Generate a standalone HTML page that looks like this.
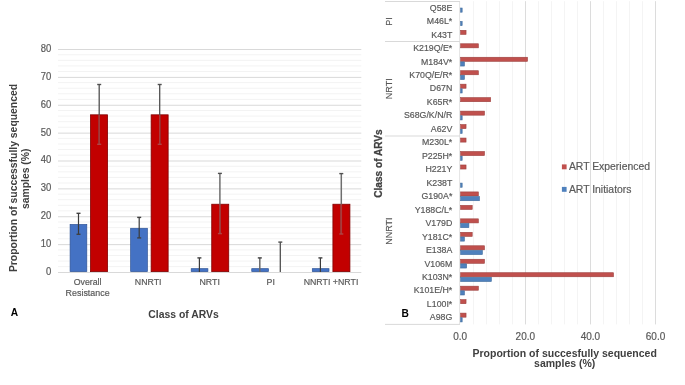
<!DOCTYPE html>
<html><head><meta charset="utf-8"><style>
html,body{margin:0;padding:0;background:#fff;width:685px;height:385px;overflow:hidden}
svg{display:block;will-change:transform}
text{font-family:"Liberation Sans", sans-serif}
text[fill="#595959"]{stroke:#595959;stroke-width:0.18px}
</style></head><body>
<svg width="685" height="385" viewBox="0 0 685 385">
<rect width="685" height="385" fill="#fff"/>
<line x1="58.0" y1="272.5" x2="361.3" y2="272.5" stroke="#d9d9d9" stroke-width="1"/>
<line x1="58.0" y1="266.625" x2="361.3" y2="266.625" stroke="#f3f3f3" stroke-width="1"/>
<line x1="58.0" y1="261.05" x2="361.3" y2="261.05" stroke="#f3f3f3" stroke-width="1"/>
<line x1="58.0" y1="255.475" x2="361.3" y2="255.475" stroke="#f3f3f3" stroke-width="1"/>
<line x1="58.0" y1="249.89999999999998" x2="361.3" y2="249.89999999999998" stroke="#f3f3f3" stroke-width="1"/>
<line x1="58.0" y1="244.625" x2="361.3" y2="244.625" stroke="#d9d9d9" stroke-width="1"/>
<line x1="58.0" y1="238.75" x2="361.3" y2="238.75" stroke="#f3f3f3" stroke-width="1"/>
<line x1="58.0" y1="233.17499999999998" x2="361.3" y2="233.17499999999998" stroke="#f3f3f3" stroke-width="1"/>
<line x1="58.0" y1="227.6" x2="361.3" y2="227.6" stroke="#f3f3f3" stroke-width="1"/>
<line x1="58.0" y1="222.02499999999998" x2="361.3" y2="222.02499999999998" stroke="#f3f3f3" stroke-width="1"/>
<line x1="58.0" y1="216.75" x2="361.3" y2="216.75" stroke="#d9d9d9" stroke-width="1"/>
<line x1="58.0" y1="210.875" x2="361.3" y2="210.875" stroke="#f3f3f3" stroke-width="1"/>
<line x1="58.0" y1="205.29999999999998" x2="361.3" y2="205.29999999999998" stroke="#f3f3f3" stroke-width="1"/>
<line x1="58.0" y1="199.72499999999997" x2="361.3" y2="199.72499999999997" stroke="#f3f3f3" stroke-width="1"/>
<line x1="58.0" y1="194.14999999999998" x2="361.3" y2="194.14999999999998" stroke="#f3f3f3" stroke-width="1"/>
<line x1="58.0" y1="188.875" x2="361.3" y2="188.875" stroke="#d9d9d9" stroke-width="1"/>
<line x1="58.0" y1="183.0" x2="361.3" y2="183.0" stroke="#f3f3f3" stroke-width="1"/>
<line x1="58.0" y1="177.42499999999998" x2="361.3" y2="177.42499999999998" stroke="#f3f3f3" stroke-width="1"/>
<line x1="58.0" y1="171.84999999999997" x2="361.3" y2="171.84999999999997" stroke="#f3f3f3" stroke-width="1"/>
<line x1="58.0" y1="166.27499999999998" x2="361.3" y2="166.27499999999998" stroke="#f3f3f3" stroke-width="1"/>
<line x1="58.0" y1="161.0" x2="361.3" y2="161.0" stroke="#d9d9d9" stroke-width="1"/>
<line x1="58.0" y1="155.125" x2="361.3" y2="155.125" stroke="#f3f3f3" stroke-width="1"/>
<line x1="58.0" y1="149.54999999999998" x2="361.3" y2="149.54999999999998" stroke="#f3f3f3" stroke-width="1"/>
<line x1="58.0" y1="143.975" x2="361.3" y2="143.975" stroke="#f3f3f3" stroke-width="1"/>
<line x1="58.0" y1="138.39999999999998" x2="361.3" y2="138.39999999999998" stroke="#f3f3f3" stroke-width="1"/>
<line x1="58.0" y1="133.125" x2="361.3" y2="133.125" stroke="#d9d9d9" stroke-width="1"/>
<line x1="58.0" y1="127.24999999999999" x2="361.3" y2="127.24999999999999" stroke="#f3f3f3" stroke-width="1"/>
<line x1="58.0" y1="121.675" x2="361.3" y2="121.675" stroke="#f3f3f3" stroke-width="1"/>
<line x1="58.0" y1="116.10000000000001" x2="361.3" y2="116.10000000000001" stroke="#f3f3f3" stroke-width="1"/>
<line x1="58.0" y1="110.52499999999999" x2="361.3" y2="110.52499999999999" stroke="#f3f3f3" stroke-width="1"/>
<line x1="58.0" y1="105.25" x2="361.3" y2="105.25" stroke="#d9d9d9" stroke-width="1"/>
<line x1="58.0" y1="99.37499999999999" x2="361.3" y2="99.37499999999999" stroke="#f3f3f3" stroke-width="1"/>
<line x1="58.0" y1="93.8" x2="361.3" y2="93.8" stroke="#f3f3f3" stroke-width="1"/>
<line x1="58.0" y1="88.22500000000001" x2="361.3" y2="88.22500000000001" stroke="#f3f3f3" stroke-width="1"/>
<line x1="58.0" y1="82.64999999999999" x2="361.3" y2="82.64999999999999" stroke="#f3f3f3" stroke-width="1"/>
<line x1="58.0" y1="77.375" x2="361.3" y2="77.375" stroke="#d9d9d9" stroke-width="1"/>
<line x1="58.0" y1="71.49999999999999" x2="361.3" y2="71.49999999999999" stroke="#f3f3f3" stroke-width="1"/>
<line x1="58.0" y1="65.925" x2="361.3" y2="65.925" stroke="#f3f3f3" stroke-width="1"/>
<line x1="58.0" y1="60.35000000000001" x2="361.3" y2="60.35000000000001" stroke="#f3f3f3" stroke-width="1"/>
<line x1="58.0" y1="54.77499999999999" x2="361.3" y2="54.77499999999999" stroke="#f3f3f3" stroke-width="1"/>
<line x1="58.0" y1="49.5" x2="361.3" y2="49.5" stroke="#d9d9d9" stroke-width="1"/>
<text transform="translate(51.3,274.90) scale(1,1.15)" text-anchor="end" font-size="9.5" fill="#595959">0</text>
<text transform="translate(51.3,247.03) scale(1,1.15)" text-anchor="end" font-size="9.5" fill="#595959">10</text>
<text transform="translate(51.3,219.15) scale(1,1.15)" text-anchor="end" font-size="9.5" fill="#595959">20</text>
<text transform="translate(51.3,191.28) scale(1,1.15)" text-anchor="end" font-size="9.5" fill="#595959">30</text>
<text transform="translate(51.3,163.40) scale(1,1.15)" text-anchor="end" font-size="9.5" fill="#595959">40</text>
<text transform="translate(51.3,135.53) scale(1,1.15)" text-anchor="end" font-size="9.5" fill="#595959">50</text>
<text transform="translate(51.3,107.65) scale(1,1.15)" text-anchor="end" font-size="9.5" fill="#595959">60</text>
<text transform="translate(51.3,79.78) scale(1,1.15)" text-anchor="end" font-size="9.5" fill="#595959">70</text>
<text transform="translate(51.3,51.90) scale(1,1.15)" text-anchor="end" font-size="9.5" fill="#595959">80</text>
<rect x="70.10" y="224.44" width="16.70" height="47.21" fill="#4472c4" stroke="#2f5597" stroke-width="0.7"/>
<rect x="90.55" y="114.82" width="17.0" height="156.78" fill="#c20000" stroke="#800000" stroke-width="0.8"/>
<rect x="130.65" y="228.28" width="16.70" height="43.37" fill="#4472c4" stroke="#2f5597" stroke-width="0.7"/>
<rect x="151.14" y="114.82" width="17.0" height="156.78" fill="#c20000" stroke="#800000" stroke-width="0.8"/>
<rect x="191.20" y="268.66" width="16.70" height="2.99" fill="#4472c4" stroke="#2f5597" stroke-width="0.7"/>
<rect x="211.73" y="204.23" width="17.0" height="67.37" fill="#c20000" stroke="#800000" stroke-width="0.8"/>
<rect x="251.75" y="268.66" width="16.70" height="2.99" fill="#4472c4" stroke="#2f5597" stroke-width="0.7"/>
<rect x="312.30" y="268.66" width="16.70" height="2.99" fill="#4472c4" stroke="#2f5597" stroke-width="0.7"/>
<rect x="332.91" y="204.23" width="17.0" height="67.37" fill="#c20000" stroke="#800000" stroke-width="0.8"/>
<line x1="78.50" y1="213.30" x2="78.50" y2="234.30" stroke="#3a3a3a" stroke-width="1.2"/>
<line x1="76.50" y1="213.30" x2="80.50" y2="213.30" stroke="#404040" stroke-width="1.4"/>
<line x1="76.50" y1="234.30" x2="80.50" y2="234.30" stroke="#404040" stroke-width="1.4"/>
<line x1="99.20" y1="84.50" x2="99.20" y2="144.30" stroke="#505050" stroke-width="1.3"/>
<line x1="97.20" y1="84.50" x2="101.20" y2="84.50" stroke="#505050" stroke-width="1.4"/>
<line x1="99.20" y1="115.12" x2="99.20" y2="144.30" stroke="#a33232" stroke-width="1.4"/>
<line x1="99.20" y1="115.12" x2="99.20" y2="144.30" stroke="#b44a4a" stroke-width="0.5"/>
<line x1="97.20" y1="144.30" x2="101.20" y2="144.30" stroke="#b04545" stroke-width="1.4"/>
<line x1="139.20" y1="217.40" x2="139.20" y2="237.90" stroke="#3a3a3a" stroke-width="1.2"/>
<line x1="137.20" y1="217.40" x2="141.20" y2="217.40" stroke="#404040" stroke-width="1.4"/>
<line x1="137.20" y1="237.90" x2="141.20" y2="237.90" stroke="#404040" stroke-width="1.4"/>
<line x1="159.70" y1="84.50" x2="159.70" y2="144.30" stroke="#505050" stroke-width="1.3"/>
<line x1="157.70" y1="84.50" x2="161.70" y2="84.50" stroke="#505050" stroke-width="1.4"/>
<line x1="159.70" y1="115.12" x2="159.70" y2="144.30" stroke="#a33232" stroke-width="1.4"/>
<line x1="159.70" y1="115.12" x2="159.70" y2="144.30" stroke="#b44a4a" stroke-width="0.5"/>
<line x1="157.70" y1="144.30" x2="161.70" y2="144.30" stroke="#b04545" stroke-width="1.4"/>
<line x1="199.40" y1="257.90" x2="199.40" y2="272.00" stroke="#3a3a3a" stroke-width="1.2"/>
<line x1="197.40" y1="257.90" x2="201.40" y2="257.90" stroke="#404040" stroke-width="1.4"/>
<line x1="219.90" y1="173.40" x2="219.90" y2="233.60" stroke="#6e6e6e" stroke-width="1.5"/>
<line x1="217.90" y1="173.40" x2="221.90" y2="173.40" stroke="#505050" stroke-width="1.4"/>
<line x1="219.90" y1="204.53" x2="219.90" y2="233.60" stroke="#a33232" stroke-width="1.4"/>
<line x1="219.90" y1="204.53" x2="219.90" y2="233.60" stroke="#b44a4a" stroke-width="0.5"/>
<line x1="217.90" y1="233.60" x2="221.90" y2="233.60" stroke="#b04545" stroke-width="1.4"/>
<line x1="259.80" y1="257.90" x2="259.80" y2="272.00" stroke="#6a6a6a" stroke-width="1.5"/>
<line x1="257.80" y1="257.90" x2="261.80" y2="257.90" stroke="#404040" stroke-width="1.4"/>
<line x1="280.30" y1="242.10" x2="280.30" y2="272.00" stroke="#505050" stroke-width="1.3"/>
<line x1="278.30" y1="242.10" x2="282.30" y2="242.10" stroke="#505050" stroke-width="1.4"/>
<line x1="320.40" y1="257.90" x2="320.40" y2="272.00" stroke="#3a3a3a" stroke-width="1.2"/>
<line x1="318.40" y1="257.90" x2="322.40" y2="257.90" stroke="#404040" stroke-width="1.4"/>
<line x1="341.30" y1="173.60" x2="341.30" y2="234.00" stroke="#6e6e6e" stroke-width="1.5"/>
<line x1="339.30" y1="173.60" x2="343.30" y2="173.60" stroke="#505050" stroke-width="1.4"/>
<line x1="341.30" y1="204.53" x2="341.30" y2="234.00" stroke="#a33232" stroke-width="1.4"/>
<line x1="341.30" y1="204.53" x2="341.30" y2="234.00" stroke="#b44a4a" stroke-width="0.5"/>
<line x1="339.30" y1="234.00" x2="343.30" y2="234.00" stroke="#b04545" stroke-width="1.4"/>
<text transform="translate(87.60,285.4) scale(1,1.1)" text-anchor="middle" font-size="8.8" fill="#595959">Overall</text>
<text transform="translate(87.60,295.9) scale(1,1.1)" text-anchor="middle" font-size="8.9" fill="#595959">Resistance</text>
<text transform="translate(148.20,285.4) scale(1,1.1)" text-anchor="middle" font-size="8.8" fill="#595959">NNRTI</text>
<text transform="translate(209.70,285.4) scale(1,1.1)" text-anchor="middle" font-size="8.8" fill="#595959">NRTI</text>
<text transform="translate(270.70,285.4) scale(1,1.1)" text-anchor="middle" font-size="8.8" fill="#595959">PI</text>
<text transform="translate(331.00,285.4) scale(1,1.1)" text-anchor="middle" font-size="8.8" fill="#595959">NNRTI +NRTI</text>
<text x="183.5" y="317.7" text-anchor="middle" font-size="10.4" font-weight="bold" fill="#404040">Class of ARVs</text>
<text x="10.8" y="315.9" font-size="10.2" font-weight="bold" fill="#000">A</text>
<g transform="translate(17.1,178) rotate(-90)"><text x="0" y="0" text-anchor="middle" font-size="10.4" font-weight="bold" fill="#404040">Proportion of successfully sequenced</text><text x="-0.8" y="12" text-anchor="middle" font-size="10.4" font-weight="bold" fill="#404040">samples (%)</text></g>
<line x1="473.5" y1="1.2" x2="473.5" y2="324.4" stroke="#f4f4f4" stroke-width="1"/>
<line x1="486.5" y1="1.2" x2="486.5" y2="324.4" stroke="#f4f4f4" stroke-width="1"/>
<line x1="499.5" y1="1.2" x2="499.5" y2="324.4" stroke="#f4f4f4" stroke-width="1"/>
<line x1="512.5" y1="1.2" x2="512.5" y2="324.4" stroke="#f4f4f4" stroke-width="1"/>
<line x1="525.5" y1="1.2" x2="525.5" y2="324.4" stroke="#dcdcdc" stroke-width="1"/>
<line x1="538.5" y1="1.2" x2="538.5" y2="324.4" stroke="#f4f4f4" stroke-width="1"/>
<line x1="551.5" y1="1.2" x2="551.5" y2="324.4" stroke="#f4f4f4" stroke-width="1"/>
<line x1="564.5" y1="1.2" x2="564.5" y2="324.4" stroke="#f4f4f4" stroke-width="1"/>
<line x1="577.5" y1="1.2" x2="577.5" y2="324.4" stroke="#f4f4f4" stroke-width="1"/>
<line x1="590.5" y1="1.2" x2="590.5" y2="324.4" stroke="#dcdcdc" stroke-width="1"/>
<line x1="603.5" y1="1.2" x2="603.5" y2="324.4" stroke="#f4f4f4" stroke-width="1"/>
<line x1="616.5" y1="1.2" x2="616.5" y2="324.4" stroke="#f4f4f4" stroke-width="1"/>
<line x1="629.5" y1="1.2" x2="629.5" y2="324.4" stroke="#f4f4f4" stroke-width="1"/>
<line x1="642.5" y1="1.2" x2="642.5" y2="324.4" stroke="#f4f4f4" stroke-width="1"/>
<line x1="655.5" y1="1.2" x2="655.5" y2="324.4" stroke="#dcdcdc" stroke-width="1"/>
<rect x="460.50" y="8.03" width="1.65" height="4.15" fill="#4f81bd" stroke="#3d6a9c" stroke-width="0.6"/>
<text transform="translate(452.3,10.68) scale(1,1.07)" text-anchor="end" font-size="8.8" fill="#595959">Q58E</text>
<rect x="460.50" y="21.50" width="1.65" height="4.15" fill="#4f81bd" stroke="#3d6a9c" stroke-width="0.6"/>
<text transform="translate(452.3,24.15) scale(1,1.07)" text-anchor="end" font-size="8.8" fill="#595959">M46L*</text>
<rect x="460.50" y="30.32" width="5.54" height="4.05" fill="#c0504d" stroke="#9c3f3d" stroke-width="0.6"/>
<text transform="translate(452.3,37.62) scale(1,1.07)" text-anchor="end" font-size="8.8" fill="#595959">K43T</text>
<rect x="460.50" y="43.78" width="17.83" height="4.05" fill="#c0504d" stroke="#9c3f3d" stroke-width="0.6"/>
<text transform="translate(452.3,51.08) scale(1,1.07)" text-anchor="end" font-size="8.8" fill="#595959">K219Q/E*</text>
<rect x="460.50" y="57.25" width="66.98" height="4.05" fill="#c0504d" stroke="#9c3f3d" stroke-width="0.6"/>
<rect x="460.50" y="61.90" width="3.89" height="4.15" fill="#4f81bd" stroke="#3d6a9c" stroke-width="0.6"/>
<text transform="translate(452.3,64.55) scale(1,1.07)" text-anchor="end" font-size="8.8" fill="#595959">M184V*</text>
<rect x="460.50" y="70.72" width="17.83" height="4.05" fill="#c0504d" stroke="#9c3f3d" stroke-width="0.6"/>
<rect x="460.50" y="75.37" width="3.89" height="4.15" fill="#4f81bd" stroke="#3d6a9c" stroke-width="0.6"/>
<text transform="translate(452.3,78.02) scale(1,1.07)" text-anchor="end" font-size="8.8" fill="#595959">K70Q/E/R*</text>
<rect x="460.50" y="84.18" width="5.54" height="4.05" fill="#c0504d" stroke="#9c3f3d" stroke-width="0.6"/>
<rect x="460.50" y="88.83" width="1.65" height="4.15" fill="#4f81bd" stroke="#3d6a9c" stroke-width="0.6"/>
<text transform="translate(452.3,91.48) scale(1,1.07)" text-anchor="end" font-size="8.8" fill="#595959">D67N</text>
<rect x="460.50" y="97.65" width="30.12" height="4.05" fill="#c0504d" stroke="#9c3f3d" stroke-width="0.6"/>
<text transform="translate(452.3,104.95) scale(1,1.07)" text-anchor="end" font-size="8.8" fill="#595959">K65R*</text>
<rect x="460.50" y="111.12" width="23.97" height="4.05" fill="#c0504d" stroke="#9c3f3d" stroke-width="0.6"/>
<rect x="460.50" y="115.77" width="1.65" height="4.15" fill="#4f81bd" stroke="#3d6a9c" stroke-width="0.6"/>
<text transform="translate(452.3,118.42) scale(1,1.07)" text-anchor="end" font-size="8.8" fill="#595959">S68G/K/N/R</text>
<rect x="460.50" y="124.58" width="5.54" height="4.05" fill="#c0504d" stroke="#9c3f3d" stroke-width="0.6"/>
<rect x="460.50" y="129.23" width="1.65" height="4.15" fill="#4f81bd" stroke="#3d6a9c" stroke-width="0.6"/>
<text transform="translate(452.3,131.88) scale(1,1.07)" text-anchor="end" font-size="8.8" fill="#595959">A62V</text>
<rect x="460.50" y="138.05" width="5.54" height="4.05" fill="#c0504d" stroke="#9c3f3d" stroke-width="0.6"/>
<text transform="translate(452.3,145.35) scale(1,1.07)" text-anchor="end" font-size="8.8" fill="#595959">M230L*</text>
<rect x="460.50" y="151.52" width="23.97" height="4.05" fill="#c0504d" stroke="#9c3f3d" stroke-width="0.6"/>
<rect x="460.50" y="156.17" width="1.65" height="4.15" fill="#4f81bd" stroke="#3d6a9c" stroke-width="0.6"/>
<text transform="translate(452.3,158.82) scale(1,1.07)" text-anchor="end" font-size="8.8" fill="#595959">P225H*</text>
<rect x="460.50" y="164.98" width="5.54" height="4.05" fill="#c0504d" stroke="#9c3f3d" stroke-width="0.6"/>
<text transform="translate(452.3,172.28) scale(1,1.07)" text-anchor="end" font-size="8.8" fill="#595959">H221Y</text>
<rect x="460.50" y="183.10" width="1.65" height="4.15" fill="#4f81bd" stroke="#3d6a9c" stroke-width="0.6"/>
<text transform="translate(452.3,185.75) scale(1,1.07)" text-anchor="end" font-size="8.8" fill="#595959">K238T</text>
<rect x="460.50" y="191.92" width="17.83" height="4.05" fill="#c0504d" stroke="#9c3f3d" stroke-width="0.6"/>
<rect x="460.50" y="196.57" width="18.94" height="4.15" fill="#4f81bd" stroke="#3d6a9c" stroke-width="0.6"/>
<text transform="translate(452.3,199.22) scale(1,1.07)" text-anchor="end" font-size="8.8" fill="#595959">G190A*</text>
<rect x="460.50" y="205.38" width="11.69" height="4.05" fill="#c0504d" stroke="#9c3f3d" stroke-width="0.6"/>
<text transform="translate(452.3,212.68) scale(1,1.07)" text-anchor="end" font-size="8.8" fill="#595959">Y188C/L*</text>
<rect x="460.50" y="218.85" width="17.83" height="4.05" fill="#c0504d" stroke="#9c3f3d" stroke-width="0.6"/>
<rect x="460.50" y="223.50" width="8.38" height="4.15" fill="#4f81bd" stroke="#3d6a9c" stroke-width="0.6"/>
<text transform="translate(452.3,226.15) scale(1,1.07)" text-anchor="end" font-size="8.8" fill="#595959">V179D</text>
<rect x="460.50" y="232.32" width="11.69" height="4.05" fill="#c0504d" stroke="#9c3f3d" stroke-width="0.6"/>
<rect x="460.50" y="236.97" width="3.89" height="4.15" fill="#4f81bd" stroke="#3d6a9c" stroke-width="0.6"/>
<text transform="translate(452.3,239.62) scale(1,1.07)" text-anchor="end" font-size="8.8" fill="#595959">Y181C*</text>
<rect x="460.50" y="245.78" width="23.97" height="4.05" fill="#c0504d" stroke="#9c3f3d" stroke-width="0.6"/>
<rect x="460.50" y="250.43" width="21.86" height="4.15" fill="#4f81bd" stroke="#3d6a9c" stroke-width="0.6"/>
<text transform="translate(452.3,253.08) scale(1,1.07)" text-anchor="end" font-size="8.8" fill="#595959">E138A</text>
<rect x="460.50" y="259.25" width="23.97" height="4.05" fill="#c0504d" stroke="#9c3f3d" stroke-width="0.6"/>
<rect x="460.50" y="263.90" width="6.14" height="4.15" fill="#4f81bd" stroke="#3d6a9c" stroke-width="0.6"/>
<text transform="translate(452.3,266.55) scale(1,1.07)" text-anchor="end" font-size="8.8" fill="#595959">V106M</text>
<rect x="460.50" y="272.72" width="152.98" height="4.05" fill="#c0504d" stroke="#9c3f3d" stroke-width="0.6"/>
<rect x="460.50" y="277.37" width="30.84" height="4.15" fill="#4f81bd" stroke="#3d6a9c" stroke-width="0.6"/>
<text transform="translate(452.3,280.02) scale(1,1.07)" text-anchor="end" font-size="8.8" fill="#595959">K103N*</text>
<rect x="460.50" y="286.18" width="17.83" height="4.05" fill="#c0504d" stroke="#9c3f3d" stroke-width="0.6"/>
<rect x="460.50" y="290.83" width="3.89" height="4.15" fill="#4f81bd" stroke="#3d6a9c" stroke-width="0.6"/>
<text transform="translate(452.3,293.48) scale(1,1.07)" text-anchor="end" font-size="8.8" fill="#595959">K101E/H*</text>
<rect x="460.50" y="299.65" width="5.54" height="4.05" fill="#c0504d" stroke="#9c3f3d" stroke-width="0.6"/>
<text transform="translate(452.3,306.95) scale(1,1.07)" text-anchor="end" font-size="8.8" fill="#595959">L100I*</text>
<rect x="460.50" y="313.12" width="5.54" height="4.05" fill="#c0504d" stroke="#9c3f3d" stroke-width="0.6"/>
<rect x="460.50" y="317.77" width="1.65" height="4.15" fill="#4f81bd" stroke="#3d6a9c" stroke-width="0.6"/>
<text transform="translate(452.3,320.42) scale(1,1.07)" text-anchor="end" font-size="8.8" fill="#595959">A98G</text>
<line x1="459.6" y1="1.2" x2="459.6" y2="324.4" stroke="#e4e4e4" stroke-width="1"/>
<line x1="385" y1="1.5" x2="460" y2="1.5" stroke="#d9d9d9" stroke-width="1"/>
<line x1="385" y1="41.5" x2="460" y2="41.5" stroke="#d9d9d9" stroke-width="1"/>
<line x1="385" y1="136.0" x2="460" y2="136.0" stroke="#d9d9d9" stroke-width="1"/>
<line x1="385" y1="324.4" x2="460" y2="324.4" stroke="#d9d9d9" stroke-width="1"/>
<text transform="translate(392.4,21.60) rotate(-90)" x="0" y="0" text-anchor="middle" font-size="9" letter-spacing="0" fill="#595959">PI</text>
<text transform="translate(392.4,88.75) rotate(-90)" x="0" y="0" text-anchor="middle" font-size="9" letter-spacing="0" fill="#595959">NRTI</text>
<text transform="translate(392.4,231.20) rotate(-90)" x="0" y="0" text-anchor="middle" font-size="9" letter-spacing="0" fill="#595959">NNRTI</text>
<text transform="translate(381.8,163.5) rotate(-90)" text-anchor="middle" font-size="10.1" font-weight="bold" fill="#404040" stroke="#404040" stroke-width="0.25">Class of ARVs</text>
<text x="401.5" y="316.9" font-size="10.2" font-weight="bold" fill="#000">B</text>
<text x="460.20" y="339.8" text-anchor="middle" font-size="10" fill="#595959">0.0</text>
<text x="525.32" y="339.8" text-anchor="middle" font-size="10" fill="#595959">20.0</text>
<text x="590.44" y="339.8" text-anchor="middle" font-size="10" fill="#595959">40.0</text>
<text x="655.56" y="339.8" text-anchor="middle" font-size="10" fill="#595959">60.0</text>
<text x="564.7" y="356.5" text-anchor="middle" font-size="10.5" font-weight="bold" fill="#404040">Proportion of succesfully sequenced</text>
<text x="564.7" y="367.2" text-anchor="middle" font-size="10.5" font-weight="bold" fill="#404040">samples (%)</text>
<rect x="561.9" y="164.4" width="4.7" height="4.9" fill="#c0504d"/>
<text x="568.9" y="170.0" font-size="10.4" fill="#595959">ART Experienced</text>
<rect x="561.9" y="186.9" width="4.7" height="4.9" fill="#4f81bd"/>
<text x="568.9" y="193.3" font-size="10.4" fill="#595959">ART Initiators</text>
</svg>
</body></html>
